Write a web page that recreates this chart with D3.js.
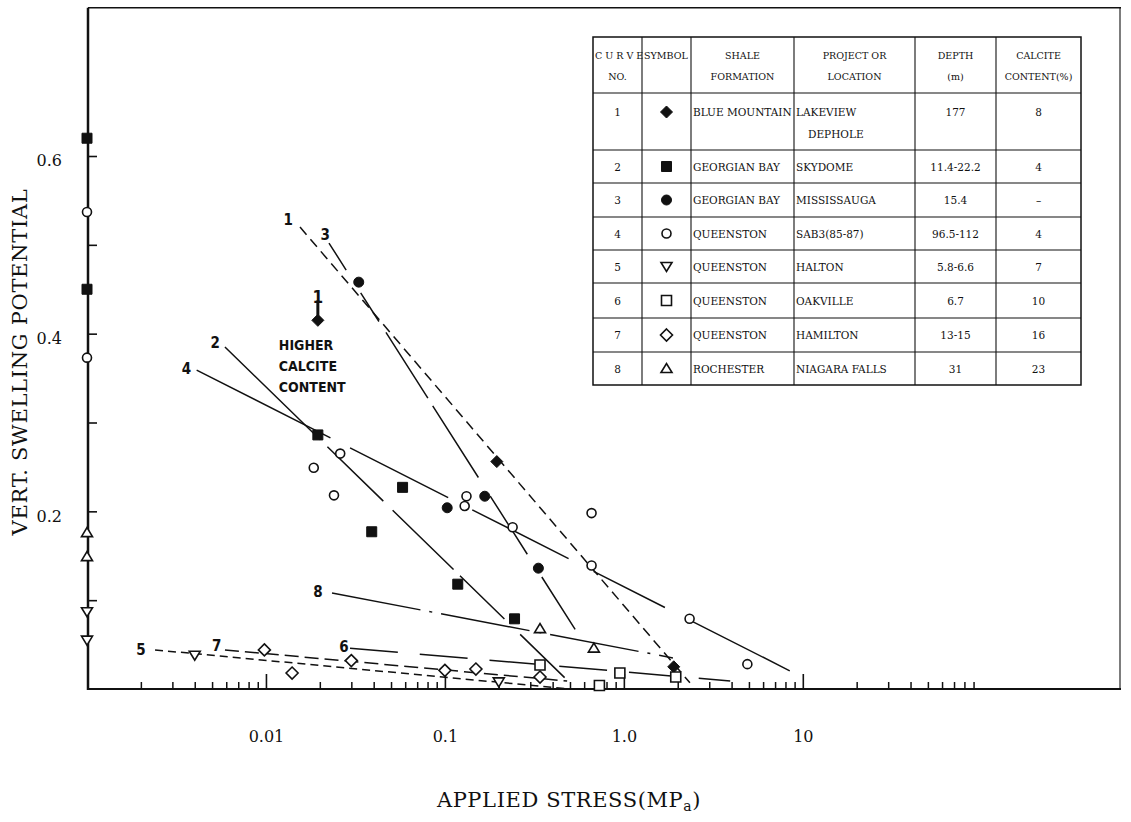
<!DOCTYPE html>
<html>
<head>
<meta charset="utf-8">
<script src="https://cdn.jsdelivr.net/npm/d3@7"></script>
<style>
  body { margin: 0; background: #fff; }
  svg { display: block; }
</style>
</head>
<body>
<svg id="chart"></svg>
<script>
// Values: [applied stress (MPa), vertical swelling potential]
const AXIS_STRESS = 0.001; // points plotted on the vertical axis

const curve1Points = [[0.0195, 0.415], [0.195, 0.256], [1.9, 0.025]];
const curve2Points = [[AXIS_STRESS, 0.62], [AXIS_STRESS, 0.45], [0.0195, 0.286], [0.039, 0.177],
  [0.058, 0.227], [0.118, 0.118], [0.245, 0.079]];
const curve3Points = [[0.033, 0.458], [0.103, 0.204], [0.167, 0.217], [0.333, 0.136]];
const curve4Points = [[AXIS_STRESS, 0.537], [AXIS_STRESS, 0.373], [0.026, 0.265], [0.0185, 0.249],
  [0.024, 0.218], [0.132, 0.217], [0.129, 0.206], [0.239, 0.182], [0.66, 0.198], [0.66, 0.139],
  [2.33, 0.079], [4.9, 0.028]];
const curve5Points = [[AXIS_STRESS, 0.087], [AXIS_STRESS, 0.055], [0.004, 0.038], [0.2, 0.008]];
const curve6Points = [[0.34, 0.027], [0.95, 0.018], [1.95, 0.0135], [0.73, 0.004]];
const curve7Points = [[0.0098, 0.044], [0.014, 0.018], [0.03, 0.032], [0.1, 0.021], [0.149, 0.0225], [0.34, 0.0135]];
const curve8Points = [[AXIS_STRESS, 0.176], [AXIS_STRESS, 0.149], [0.34, 0.068], [0.68, 0.046]];

// fitted lines, start and end
const curveLines = [
  ["1", [[0.0155, 0.52], [2.34, 0.007]]],
  ["2", [[0.0059, 0.385], [0.469, 0.0124]]],
  ["3", [[0.0225, 0.502], [0.547, 0.064]]],
  ["4", [[0.0041, 0.359], [9.66, 0.0146]]],
  ["5", [[0.0024, 0.044], [0.50, 0.0]]],
  ["6", [[0.0295, 0.046], [3.93, 0.009]]],
  ["7", [[0.0059, 0.044], [0.482, 0.009]]],
  ["8", [[0.0234, 0.108], [1.88, 0.035]]]
];
// where the curve numbers are written
const curveLabels = [
  ["1", 0.0133, 0.528], ["3", 0.0214, 0.511], ["2", 0.0052, 0.390], ["4", 0.0036, 0.361],
  ["8", 0.0195, 0.110], ["6", 0.0273, 0.047], ["7", 0.0053, 0.049], ["5", 0.0020, 0.044]
];

const xTickValues = [0.01, 0.1, 1, 10];
const xTickLabels = ["0.01", "0.1", "1.0", "10"];
const yTickValues = [0.1, 0.2, 0.3, 0.4, 0.5, 0.6];
const yTickLabels = ["", "0.2", "", "0.4", "", "0.6"];

// legend table
const curveNos = ["1", "2", "3", "4", "5", "6", "7", "8"];
const symbols = ["diamondFilled", "squareFilled", "circleFilled", "circleOpen", "triDown", "squareOpen", "diamondOpen", "triUp"];
const formations = ["BLUE MOUNTAIN", "GEORGIAN BAY", "GEORGIAN BAY", "QUEENSTON", "QUEENSTON", "QUEENSTON", "QUEENSTON", "ROCHESTER"];
const locations = [["LAKEVIEW", "DEPHOLE"], ["SKYDOME"], ["MISSISSAUGA"], ["SAB3(85-87)"], ["HALTON"], ["OAKVILLE"], ["HAMILTON"], ["NIAGARA FALLS"]];
const depths = ["177", "11.4-22.2", "15.4", "96.5-112", "5.8-6.6", "6.7", "13-15", "31"];
const calcite = ["8", "4", "\u2013", "4", "7", "10", "16", "23"];

const pointSets = [curve1Points, curve2Points, curve3Points, curve4Points, curve5Points, curve6Points, curve7Points, curve8Points];

const ink = "#111";
const serif = "'DejaVu Serif', serif";
const hand = "'DejaVu Sans Condensed', 'DejaVu Sans', sans-serif";

const svg = d3.select("#chart").attr("width", 1131).attr("height", 822);

const x = d3.scaleLog().domain([0.001, 600]).range([87, 1121]);
const y = d3.scaleLinear().domain([0, 0.6]).range([689, 156]);
const yTop = y(0.767);

// frame
svg.append("line").attr("x1", 88).attr("x2", 88).attr("y1", yTop).attr("y2", y(0) + 1)
  .attr("stroke", ink).attr("stroke-width", 2.5);
svg.append("line").attr("x1", 87).attr("x2", 1121).attr("y1", y(0)).attr("y2", y(0))
  .attr("stroke", ink).attr("stroke-width", 2.2);
svg.append("line").attr("x1", 88).attr("x2", 1121).attr("y1", yTop).attr("y2", yTop)
  .attr("stroke", ink).attr("stroke-width", 1.5);
svg.append("line").attr("x1", 1120).attr("x2", 1120).attr("y1", yTop).attr("y2", y(0))
  .attr("stroke", ink).attr("stroke-width", 1.1);

// x ticks: minor ones up to 90, none past that
const minorTicks = [];
[0.001, 0.01, 0.1, 1, 10].forEach(function (dec) {
  for (let k = 2; k <= 9; k++) minorTicks.push(dec * k);
});
const gxMinor = svg.append("g").attr("transform", `translate(0,${y(0)})`)
  .call(d3.axisBottom(x).tickValues(minorTicks).tickSize(-7).tickFormat(""));
gxMinor.select(".domain").remove();
gxMinor.selectAll("line").attr("stroke", ink).attr("stroke-width", 1.5);

const gx = svg.append("g").attr("transform", `translate(0,${y(0)})`)
  .call(d3.axisBottom(x).tickValues(xTickValues).tickSize(-15).tickPadding(42)
    .tickFormat((d, i) => xTickLabels[i]));
gx.select(".domain").remove();
gx.selectAll("line").attr("stroke", ink).attr("stroke-width", 1.6);
gx.selectAll("text").attr("font-family", serif).attr("font-size", 16).attr("fill", ink);

const gy = svg.append("g").attr("transform", "translate(88,0)")
  .call(d3.axisLeft(y).tickValues(yTickValues).tickSize(-9).tickPadding(26)
    .tickFormat((d, i) => yTickLabels[i]));
gy.select(".domain").remove();
gy.selectAll("line").attr("stroke", ink).attr("stroke-width", 1.6);
gy.selectAll("text").attr("font-family", serif).attr("font-size", 16).attr("fill", ink).attr("dy", "0.62em");

// axis titles
svg.append("text").attr("x", 569).attr("y", 807).attr("text-anchor", "middle")
  .attr("font-family", serif).attr("font-size", 21).attr("letter-spacing", 0.6).attr("fill", ink)
  .html("APPLIED STRESS(MP<tspan font-size='14' dy='4'>a</tspan><tspan dy='-4'>)</tspan>");
svg.append("text").attr("transform", "translate(27,362) rotate(-90)").attr("text-anchor", "middle")
  .attr("font-family", serif).attr("font-size", 21).attr("letter-spacing", 0.7).attr("fill", ink)
  .text("VERT. SWELLING POTENTIAL");

// fitted lines
const dashes = {
  "1": "10,6",
  "2": "133,10,78,13,85,9,62,22,62",
  "3": "32,27,34,13,78,9,85,22,69,27,62",
  "4": "150,22,110,27,108,28,80,30,110",
  "5": "8,5", "6": "48,22", "7": "14,6", "8": "90,9,3,9"
};
const line = d3.line().x(d => x(d[0])).y(d => y(d[1]));
svg.append("g").selectAll("path").data(curveLines).join("path")
  .attr("d", d => line(d[1]))
  .attr("fill", "none").attr("stroke", ink).attr("stroke-width", 1.5)
  .attr("stroke-dasharray", d => dashes[d[0]]);

// markers
function markerPath(type, cx, cy) {
  const p = d3.path();
  if (type.startsWith("diamond")) {
    const r = 6;
    p.moveTo(cx, cy - r); p.lineTo(cx + r, cy); p.lineTo(cx, cy + r); p.lineTo(cx - r, cy); p.closePath();
  } else if (type.startsWith("square")) {
    const r = 5;
    p.rect(cx - r, cy - r, 2 * r, 2 * r);
  } else if (type.startsWith("circle")) {
    p.arc(cx, cy, type === "circleFilled" ? 5 : 4.5, 0, 2 * Math.PI);
  } else if (type === "triDown") {
    p.moveTo(cx - 5.5, cy - 4); p.lineTo(cx + 5.5, cy - 4); p.lineTo(cx, cy + 5); p.closePath();
  } else if (type === "triUp") {
    p.moveTo(cx - 5.5, cy + 4); p.lineTo(cx + 5.5, cy + 4); p.lineTo(cx, cy - 5); p.closePath();
  }
  return p.toString();
}
function styleMarker(sel, type) {
  const filled = type.endsWith("Filled");
  sel.attr("fill", filled ? ink : "#fff").attr("stroke", ink).attr("stroke-width", filled ? 1 : 1.6);
}

pointSets.forEach(function (pts, i) {
  const type = symbols[i];
  svg.append("g").selectAll("path").data(pts).join("path")
    .attr("d", d => markerPath(type, x(d[0]), y(d[1])))
    .call(styleMarker, type);
});

// curve numbers
svg.append("g").selectAll("text").data(curveLabels).join("text")
  .attr("x", d => x(d[1])).attr("y", d => y(d[2])).attr("dy", "0.35em")
  .attr("text-anchor", "middle").attr("font-family", hand).attr("font-weight", "bold")
  .attr("font-size", 15).attr("fill", ink).text(d => d[0]);

// "higher calcite content" note over the curve 1 point
const hx = x(curve1Points[0][0]), hy = y(curve1Points[0][1]);
svg.append("text").attr("x", hx).attr("y", hy - 17).attr("text-anchor", "middle")
  .attr("font-family", hand).attr("font-weight", "bold").attr("font-size", 17).attr("fill", ink).text("1");
svg.append("line").attr("x1", hx).attr("x2", hx).attr("y1", hy - 20).attr("y2", hy - 5)
  .attr("stroke", ink).attr("stroke-width", 3);
svg.append("text").attr("font-family", hand).attr("font-weight", "bold").attr("font-size", 14)
  .attr("fill", ink).selectAll("tspan").data(["HIGHER", "CALCITE", "CONTENT"]).join("tspan")
  .attr("x", hx - 39).attr("y", (d, i) => hy + 30 + i * 21).text(d => d);

// legend table
const colX = [593, 642, 691, 794, 915, 996, 1081];
const rowY = [37, 93, 150, 183, 217, 250, 283, 318, 352, 385];
const tbl = svg.append("g").attr("font-family", serif).attr("fill", ink);
tbl.append("rect").attr("x", colX[0]).attr("y", rowY[0]).attr("width", colX[6] - colX[0])
  .attr("height", rowY[9] - rowY[0]).attr("fill", "#fff").attr("stroke", ink).attr("stroke-width", 1.5);
tbl.selectAll(".vl").data(colX.slice(1, 6)).join("line").attr("class", "vl")
  .attr("x1", d => d).attr("x2", d => d).attr("y1", rowY[0]).attr("y2", rowY[9])
  .attr("stroke", ink).attr("stroke-width", 1.1);
tbl.selectAll(".hl").data(rowY.slice(1, 9)).join("line").attr("class", "hl")
  .attr("x1", colX[0]).attr("x2", colX[6]).attr("y1", d => d).attr("y2", d => d)
  .attr("stroke", ink).attr("stroke-width", 1.1);

const headers = [
  [colX[0] + 2, "start", "C U R V E", "NO."],
  [colX[1] + 2, "start", "SYMBOL", ""],
  [(colX[2] + colX[3]) / 2, "middle", "SHALE", "FORMATION"],
  [(colX[3] + colX[4]) / 2, "middle", "PROJECT OR", "LOCATION"],
  [(colX[4] + colX[5]) / 2, "middle", "DEPTH", "(m)"],
  [(colX[5] + colX[6]) / 2, "middle", "CALCITE", "CONTENT(%)"]
];
headers.forEach(function (h, i) {
  tbl.append("text").attr("x", h[0]).attr("y", 59).attr("text-anchor", h[1]).attr("font-size", 9.5).text(h[2]);
  tbl.append("text").attr("x", i === 0 ? (colX[0] + colX[1]) / 2 : h[0]).attr("y", 80)
    .attr("text-anchor", i === 0 ? "middle" : h[1]).attr("font-size", 9.5).text(h[3]);
});

curveNos.forEach(function (no, i) {
  const top = rowY[i + 1];
  const ty = i === 0 ? top + 23 : (top + rowY[i + 2]) / 2 + 4;
  const cy = ty - 4;
  tbl.append("text").attr("x", (colX[0] + colX[1]) / 2).attr("y", ty).attr("text-anchor", "middle").attr("font-size", 10.5).text(no);
  tbl.append("path").attr("d", markerPath(symbols[i], (colX[1] + colX[2]) / 2, cy)).call(styleMarker, symbols[i]);
  tbl.append("text").attr("x", colX[2] + 2).attr("y", ty).attr("font-size", 10.5).text(formations[i]);
  locations[i].forEach(function (loc, j) {
    tbl.append("text").attr("x", colX[3] + 2 + j * 12).attr("y", ty + j * 22).attr("font-size", 10.5).text(loc);
  });
  tbl.append("text").attr("x", (colX[4] + colX[5]) / 2).attr("y", ty).attr("text-anchor", "middle").attr("font-size", 10.5).text(depths[i]);
  tbl.append("text").attr("x", (colX[5] + colX[6]) / 2).attr("y", ty).attr("text-anchor", "middle").attr("font-size", 10.5).text(calcite[i]);
});
</script>
</body>
</html>
